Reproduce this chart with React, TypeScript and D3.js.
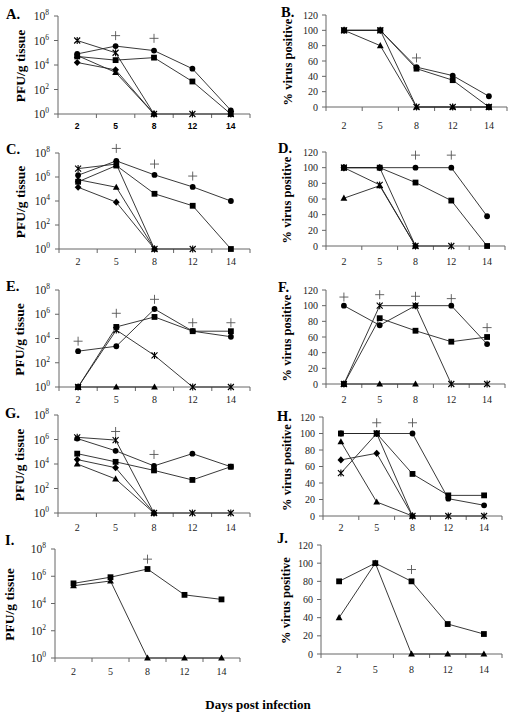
import React from 'react';
import * as d3 from 'd3';

const days = ['2', '5', '8', '12', '14'];
const logTicks = [1, 1e2, 1e4, 1e6, 1e8];
const pctTicks = [0, 20, 40, 60, 80, 100, 120];

// A (PFU/g)
const aCross = [1e6, 1e5, 1, 1, 1];
const aCircle = [8e4, 3.5e5, 1.5e5, 5e3, 2];
const aSquare = [5e4, 2.5e4, 4e4, 4.5e2, 1];
const aTriangle = [6e4, 2.5e3, 1, null, null];
const aDiamond = [1.6e4, 4e3, 1, null, null];
const aPlus = [null, 2.5e6, 1.5e6, null, null];
// B (%)
const bSquare = [100, 100, 50, 35, 0];
const bCircle = [100, 100, 52, 41, 14];
const bTriangle = [100, 80, 0, 0, 0];
const bCross = [100, 100, 0, 0, 0];
const bPlus = [null, null, 64, null, null];
// C
const cCross = [5e6, 1.2e7, 1, 1, null];
const cCircle = [1.4e6, 2.2e7, 1.5e6, 1.5e5, 1e4];
const cSquare = [4e5, 9e6, 4e4, 4e3, 1];
const cTriangle = [6e5, 1.4e5, 1, null, null];
const cDiamond = [1.4e5, 8e3, 1, null, null];
const cPlus = [null, 2.4e8, 1.2e7, 1.2e6, null];
// D
const dCircle = [100, 100, 100, 100, 38];
const dSquare = [100, 100, 81, 58, 0];
const dTriangle = [61, 77, 0, null, null];
const dCross = [100, 78, 0, 0, null];
const dDiamond = [100, 100, 0, null, null];
const dPlus = [null, null, 116, 116, null];
// E
const eCircle = [9e2, 2.3e3, 2.7e6, 4e4, 1.4e4];
const eSquare = [1, 9e4, 6e5, 4e4, 4e4];
const eCross = [1, 5e4, 4e2, 1, 1];
const eTriangle = [1, 1, 1, null, null];
const ePlus = [6e3, 1.2e6, 1.7e7, 2e5, 2e5];
// F
const fCircle = [100, 75, 100, 100, 51];
const fSquare = [0, 84, 68, 54, 60];
const fCross = [0, 100, 100, 0, 0];
const fTriangle = [0, 0, 0, null, null];
const fPlus = [111, 114, 112, 109, 72];
// G
const gCross = [1.5e6, 9e5, 1, 1, 1];
const gCircle = [1.2e6, 1.2e5, 7e3, 7e4, 6e3];
const gSquare = [7e4, 1.5e4, 3e3, 5e2, 6e3];
const gDiamond = [2.3e4, 5e3, 1, null, null];
const gTriangle = [1e4, 6e2, 1, null, null];
const gPlus = [null, 4.5e6, 6e4, null, null];
// H
const hSquare = [100, 100, 51, 25, 25];
const hCircle = [100, 100, 100, 21, 13];
const hCross = [52, 100, 0, 0, 0];
const hTriangle = [90, 17, 0, null, null];
const hDiamond = [68, 76, 0, null, null];
const hPlus = [null, 113, 113, null, null];
// I
const iSquare = [3e5, 8.5e5, 3.4e6, 4.3e4, 2e4];
const iTriangle = [2e5, 4.5e5, 1, 1, 1];
const iPlus = [null, null, 1.8e7, null, null];
// J
const jSquare = [80, 100, 80, 33, 22];
const jTriangle = [40, 100, 0, 0, 0];
const jPlus = [null, null, 93, null, null];

type Kind = 'circle' | 'square' | 'triangle' | 'diamond' | 'cross';
type Series = { kind: Kind; values: (number | null)[] };
type Panel = {
  letter: string;
  log: boolean;
  series: Series[];
  plus: (number | null)[];
  x0: number; x1: number; yTop: number; yBot: number; xLab: number;
  lx: number; ly: number; tx: number; boldSansX?: boolean;
};

const panels: Panel[] = [
  { letter: 'A', log: true, plus: aPlus, series: [
    { kind: 'diamond', values: aDiamond }, { kind: 'triangle', values: aTriangle },
    { kind: 'square', values: aSquare }, { kind: 'circle', values: aCircle }, { kind: 'cross', values: aCross }],
    x0: 58, x1: 250, yTop: 16, yBot: 114, xLab: 130, lx: 6, ly: 19, tx: 22, boldSansX: true },
  { letter: 'B', log: false, plus: bPlus, series: [
    { kind: 'triangle', values: bTriangle }, { kind: 'cross', values: bCross },
    { kind: 'circle', values: bCircle }, { kind: 'square', values: bSquare }],
    x0: 326, x1: 507, yTop: 15, yBot: 107, xLab: 129, lx: 281, ly: 17, tx: 289 },
  { letter: 'C', log: true, plus: cPlus, series: [
    { kind: 'diamond', values: cDiamond }, { kind: 'triangle', values: cTriangle },
    { kind: 'square', values: cSquare }, { kind: 'circle', values: cCircle }, { kind: 'cross', values: cCross }],
    x0: 59, x1: 250, yTop: 153, yBot: 249, xLab: 265, lx: 6, ly: 154, tx: 22 },
  { letter: 'D', log: false, plus: dPlus, series: [
    { kind: 'diamond', values: dDiamond }, { kind: 'triangle', values: dTriangle },
    { kind: 'cross', values: dCross }, { kind: 'square', values: dSquare }, { kind: 'circle', values: dCircle }],
    x0: 326, x1: 505, yTop: 152, yBot: 246, xLab: 265, lx: 278, ly: 153, tx: 288 },
  { letter: 'E', log: true, plus: ePlus, series: [
    { kind: 'triangle', values: eTriangle }, { kind: 'cross', values: eCross },
    { kind: 'square', values: eSquare }, { kind: 'circle', values: eCircle }],
    x0: 59, x1: 250, yTop: 290, yBot: 387, xLab: 403, lx: 6, ly: 291, tx: 21 },
  { letter: 'F', log: false, plus: fPlus, series: [
    { kind: 'triangle', values: fTriangle }, { kind: 'cross', values: fCross },
    { kind: 'square', values: fSquare }, { kind: 'circle', values: fCircle }],
    x0: 326, x1: 505, yTop: 290, yBot: 384, xLab: 403, lx: 278, ly: 292, tx: 288 },
  { letter: 'G', log: true, plus: gPlus, series: [
    { kind: 'triangle', values: gTriangle }, { kind: 'diamond', values: gDiamond },
    { kind: 'square', values: gSquare }, { kind: 'circle', values: gCircle }, { kind: 'cross', values: gCross }],
    x0: 58, x1: 250, yTop: 415, yBot: 513, xLab: 531, lx: 5, ly: 418, tx: 21 },
  { letter: 'H', log: false, plus: hPlus, series: [
    { kind: 'triangle', values: hTriangle }, { kind: 'diamond', values: hDiamond },
    { kind: 'cross', values: hCross }, { kind: 'circle', values: hCircle }, { kind: 'square', values: hSquare }],
    x0: 323, x1: 502, yTop: 417, yBot: 516, xLab: 531, lx: 277, ly: 421, tx: 288 },
  { letter: 'I', log: true, plus: iPlus, series: [
    { kind: 'triangle', values: iTriangle }, { kind: 'square', values: iSquare }],
    x0: 55, x1: 240, yTop: 549, yBot: 658, xLab: 675, lx: 5, ly: 545, tx: 11 },
  { letter: 'J', log: false, plus: jPlus, series: [
    { kind: 'triangle', values: jTriangle }, { kind: 'square', values: jSquare }],
    x0: 321, x1: 502, yTop: 545, yBot: 654, xLab: 673, lx: 277, ly: 543, tx: 287 },
];

const SERIF = '"Liberation Serif", "Times New Roman", serif';
const SANS = '"Liberation Sans", Arial, sans-serif';

function Marker({ kind, x, y }: { kind: Kind; x: number; y: number }) {
  switch (kind) {
    case 'circle':
      return <circle cx={x} cy={y} r={2.9} fill="#000" />;
    case 'square':
      return <rect x={x - 2.9} y={y - 2.9} width={5.8} height={5.8} fill="#000" />;
    case 'triangle':
      return <path d={`M${x},${y - 3.6}L${x + 3.4},${y + 2.6}L${x - 3.4},${y + 2.6}Z`} fill="#000" />;
    case 'diamond':
      return <path d={`M${x},${y - 3.6}L${x + 3.4},${y}L${x},${y + 3.6}L${x - 3.4},${y}Z`} fill="#000" />;
    case 'cross':
      return (
        <path
          d={`M${x - 3},${y - 3}L${x + 3},${y + 3}M${x - 3},${y + 3}L${x + 3},${y - 3}M${x},${y - 3.5}V${y + 3.5}`}
          stroke="#000" strokeWidth={1.1} fill="none"
        />
      );
  }
}

function PanelView({ p }: { p: Panel }) {
  const x = d3.scaleBand<string>().domain(days).range([p.x0, p.x1]);
  const bw = x.bandwidth();
  const cx = (d: string) => (x(d) as number) + bw / 2;
  const y = p.log
    ? d3.scaleLog().domain([1, 1e8]).range([p.yBot, p.yTop])
    : d3.scaleLinear().domain([0, 120]).range([p.yBot, p.yTop]);
  const ticks = p.log ? logTicks : pctTicks;
  const line = d3
    .line<[string, number | null]>()
    .defined((d) => d[1] !== null)
    .x((d) => cx(d[0]))
    .y((d) => y(d[1] as number));
  const mid = (p.yTop + p.yBot) / 2 + 1;
  const boundaries = d3.range(days.length + 1).map((i) => p.x0 + i * bw);
  return (
    <g>
      <text x={p.lx} y={p.ly} fontFamily={SERIF} fontWeight="bold" fontSize={14.5}>{p.letter}.</text>
      <text
        transform={`translate(${p.tx},${mid}) rotate(-90)`}
        textAnchor="middle" dominantBaseline="middle"
        fontFamily={SERIF} fontWeight="bold" fontSize={p.log ? 13.5 : 12.5}
      >
        {p.log ? 'PFU/g tissue' : '% virus positive'}
      </text>
      {/* y axis */}
      <line x1={p.x0} x2={p.x0} y1={p.yTop} y2={p.yBot} stroke="#666" strokeWidth={1} />
      {ticks.map((t) => (
        <g key={t}>
          <line x1={p.x0 - 4} x2={p.x0} y1={y(t)} y2={y(t)} stroke="#666" />
          {p.log ? (
            <text x={p.x0 - 9} y={y(t) + 4} textAnchor="end" fontFamily={SERIF} fontSize={11.5} fill="#222">
              10<tspan dy={-5} fontSize={7.5}>{Math.round(Math.log10(t))}</tspan>
            </text>
          ) : (
            <text x={p.x0 - 8} y={y(t) + 3.5} textAnchor="end" fontFamily={SERIF} fontSize={10} fill="#222">{t}</text>
          )}
        </g>
      ))}
      {/* x axis */}
      <line x1={p.x0} x2={p.x1} y1={p.yBot} y2={p.yBot} stroke="#666" strokeWidth={1} />
      {boundaries.map((b, i) => (
        <line key={i} x1={b} x2={b} y1={p.yBot} y2={p.yBot + 4} stroke="#666" />
      ))}
      {days.map((d) =>
        p.boldSansX ? (
          <text key={d} x={cx(d)} y={p.xLab - 1} textAnchor="middle" fontFamily={SANS} fontWeight="bold" fontSize={8.5}>{d}</text>
        ) : (
          <text key={d} x={cx(d)} y={p.xLab} textAnchor="middle" fontFamily={SERIF} fontSize={10} fill="#222">{d}</text>
        )
      )}
      {/* lines */}
      {p.series.map((s, i) => (
        <path
          key={i}
          d={line(days.map((d, j) => [d, s.values[j]] as [string, number | null])) || ''}
          fill="none" stroke="#222" strokeWidth={0.9}
        />
      ))}
      {p.series.map((s, i) =>
        s.values.map((v, j) =>
          v === null ? null : <Marker key={`${i}-${j}`} kind={s.kind} x={cx(days[j])} y={y(v)} />
        )
      )}
      {p.plus.map((v, j) =>
        v === null ? null : (
          <path
            key={`p${j}`}
            d={`M${cx(days[j]) - 4.5},${y(v)}H${cx(days[j]) + 4.5}M${cx(days[j])},${y(v) - 4.5}V${y(v) + 4.5}`}
            stroke="#555" strokeWidth={0.9} fill="none"
          />
        )
      )}
    </g>
  );
}

export default function App() {
  return (
    <svg
      width={512} height={715} viewBox="0 0 512 715"
      style={{ position: 'absolute', left: 0, top: 0, background: '#fff' }}
    >
      <rect width={512} height={715} fill="#fff" />
      {panels.map((p) => <PanelView key={p.letter} p={p} />)}
      <text x={258} y={709} textAnchor="middle" fontFamily={SERIF} fontWeight="bold" fontSize={13}>
        Days post infection
      </text>
    </svg>
  );
}
